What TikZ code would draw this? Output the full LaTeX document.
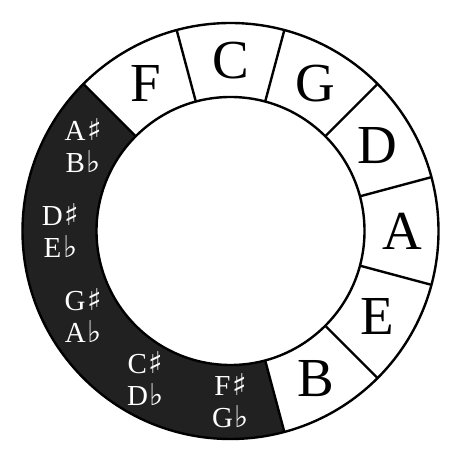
\documentclass[tikz,border=0pt]{standalone}
\usepackage{fontspec}
\setmainfont{Liberation Serif}
\newfontfamily\musicsym{DejaVu Sans}
\newcommand{\shp}{\kern0.06em{\musicsym\fontsize{30}{32}\selectfont ♯}}
\newcommand{\flt}{\kern0.06em{\musicsym\fontsize{30}{32}\selectfont ♭}}
\begin{document}
\begin{tikzpicture}[x=1pt,y=1pt,
  ringline/.style={line width=2.4pt,draw=black},
  big/.style={font=\fontsize{55}{55}\selectfont,text=black,inner sep=0pt},
  small/.style={font=\fontsize{29}{32}\selectfont,text=white,align=center,inner sep=0pt}]
\useasboundingbox (0,0) rectangle (462,462);
\coordinate (O) at (230.5,231);
\fill[white] (0,0) rectangle (462,462);
% dark sector
\fill[black!87] ([shift={(135:134)}]O) arc[start angle=135,end angle=285,radius=134]
  -- ([shift={(285:208)}]O) arc[start angle=285,end angle=135,radius=208] -- cycle;
% circles
\draw[ringline] (O) circle[radius=208];
\draw[ringline] (O) circle[radius=134];
% dividers
\foreach \a in {135,105,75,45,15,-15,-45,-75}
  \draw[ringline] ([shift={(\a:134)}]O) -- ([shift={(\a:208)}]O);
% labels
\node[big] (nF) at ([shift={(120:170)}]O) {F};
\node[big] (nC) at ([shift={(90:170)}]O) {C};
\node[big] (nG) at ([shift={(60:170)}]O) {G};
\node[big] (nD) at ([shift={(30:170)}]O) {D};
\node[big] (nA) at ([shift={(0:172)}]O) {A};
\node[big] (nE) at ([shift={(-30:170)}]O) {E};
\node[big] (nB) at ([shift={(-60:170)}]O) {B};
\node[small] (nFs) at ([shift={(-90:170)}]O) {F\shp\\G\flt};
\node[small] (nCs) at ([shift={(-120:170)}]O) {C\shp\\D\flt};
\node[small] (nGs) at ([shift={(-150:170)}]O) {G\shp\\A\flt};
\node[small] (nDs) at ([shift={(180:170)}]O) {D\shp\\E\flt};
\node[small] (nAs) at ([shift={(150:170)}]O) {A\shp\\B\flt};
\end{tikzpicture}
\end{document}
